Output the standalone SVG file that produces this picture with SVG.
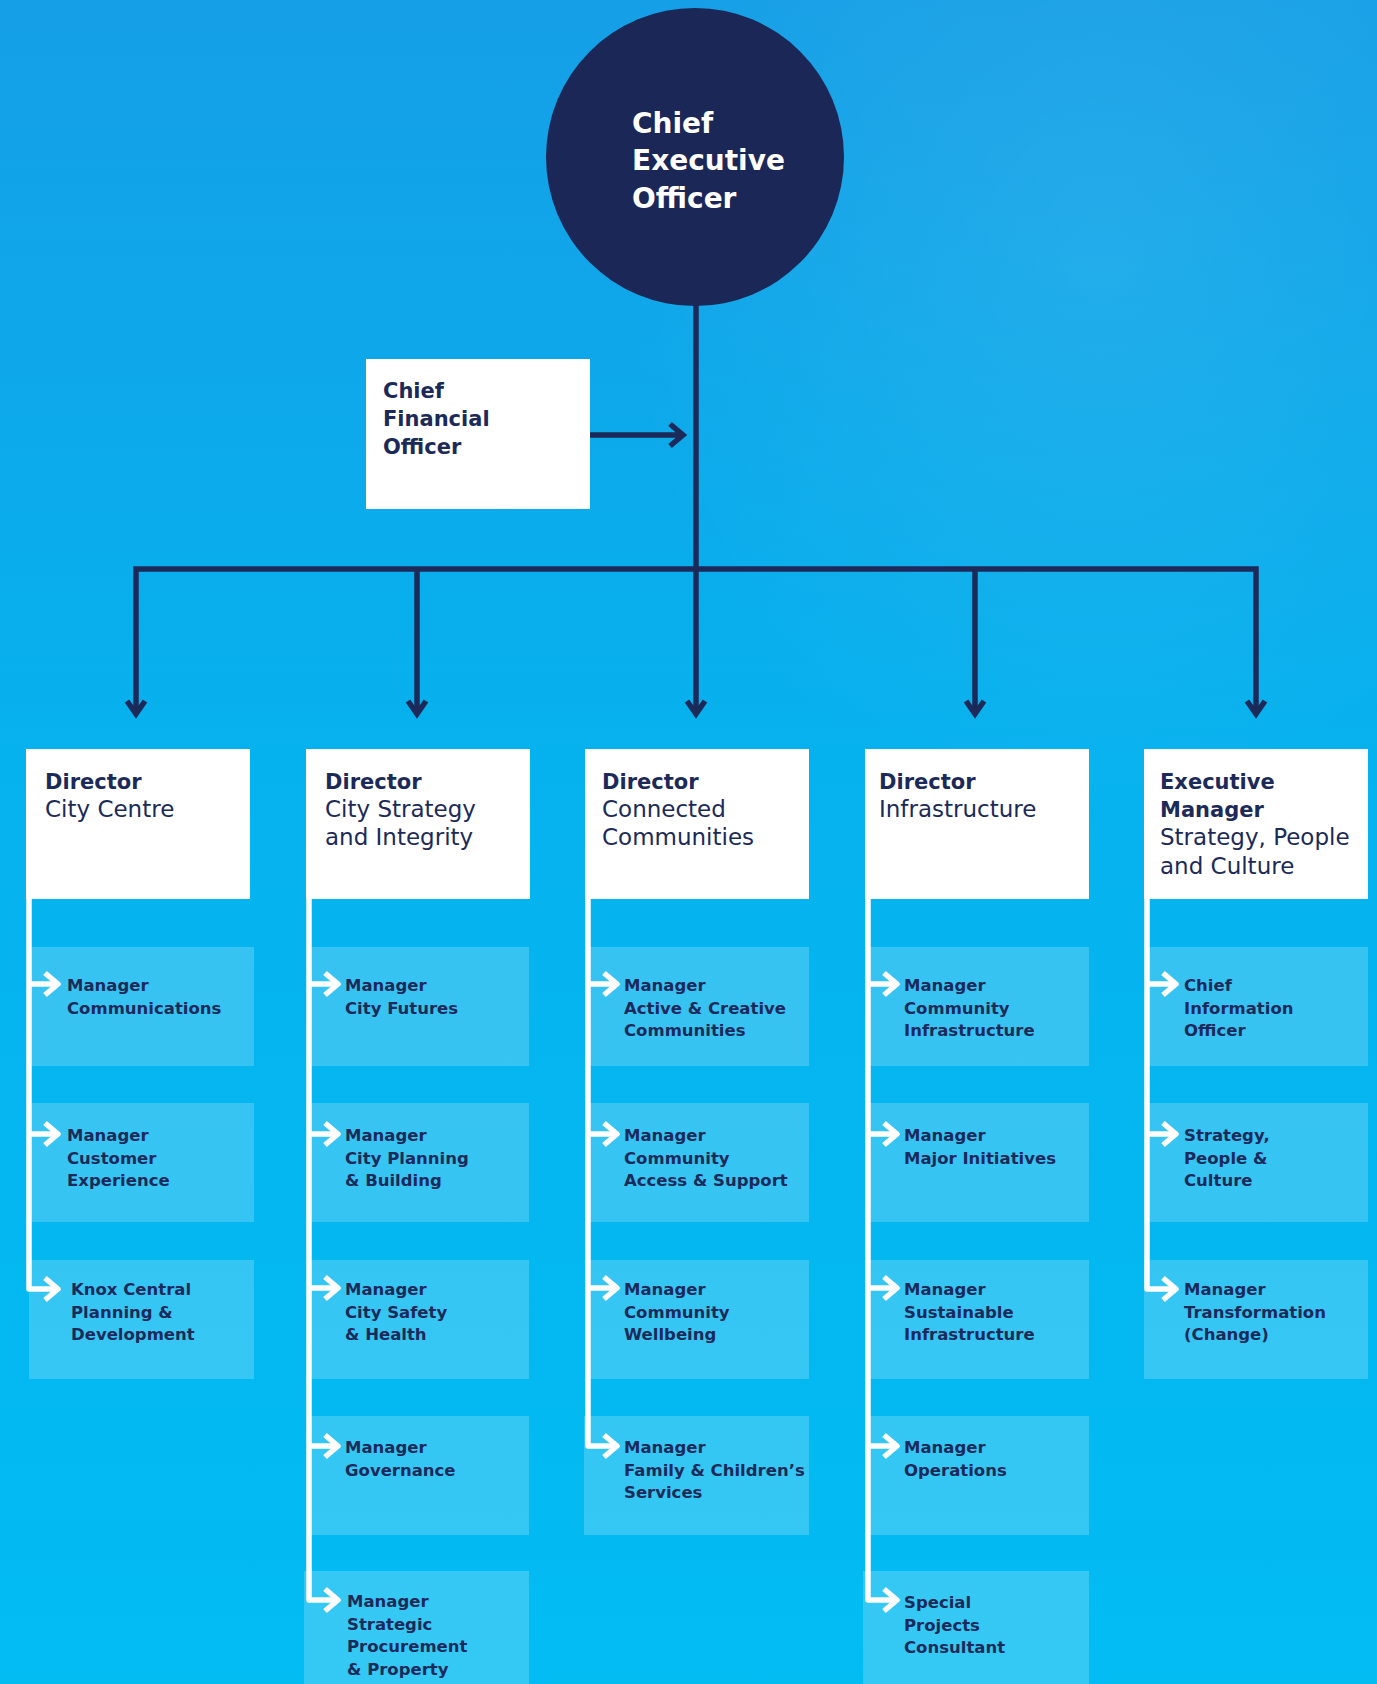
<svg xmlns="http://www.w3.org/2000/svg" width="1377" height="1684" viewBox="0 0 1377 1684">
<defs>
<linearGradient id="bg" x1="0" y1="0" x2="0" y2="1">
<stop offset="0" stop-color="#159fe6"/>
<stop offset="0.45" stop-color="#06b2ee"/>
<stop offset="1" stop-color="#02bcf2"/>
</linearGradient>
<radialGradient id="glow" cx="0.8" cy="0.15" r="0.35">
<stop offset="0" stop-color="#ffffff" stop-opacity="0.08"/>
<stop offset="1" stop-color="#ffffff" stop-opacity="0"/>
</radialGradient>
</defs>
<style>
.nv{fill:none;stroke:#1c2a5a;stroke-width:5.5;stroke-linecap:butt;stroke-linejoin:miter}
.wh{fill:none;stroke:#ffffff;stroke-width:5.5;stroke-linejoin:round}
.dbox{fill:#ffffff}
.mbox{fill:#ffffff;fill-opacity:0.2}
.t{font-family:"DejaVu Sans",sans-serif;fill:#1c2a5a}
.ceo{font-family:"DejaVu Sans",sans-serif;font-weight:bold;font-size:28px;fill:#ffffff}
.cfo{font-weight:bold;font-size:21px}
.dh{font-weight:bold;font-size:21px}
.ds{font-size:23px}
.m{font-weight:bold;font-size:16.5px}
</style>
<rect width="1377" height="1684" fill="url(#bg)"/>
<rect width="1377" height="1684" fill="url(#glow)"/>

<g id="connectors">
<path class="nv" d="M696 300 V714"/>
<path class="nv" d="M136 714 V569 H1256 V714"/>
<path class="nv" d="M417 569 V714"/>
<path class="nv" d="M975 569 V714"/>
<path class="nv" d="M127 701 L136 714 L145 701 M408 701 L417 714 L426 701 M687 701 L696 714 L705 701 M966 701 L975 714 L984 701 M1247 701 L1256 714 L1265 701"/>
<path class="nv" d="M590 435 H683 M670 424 L683 435 L670 446"/>
<!-- col1 -->
<path class="wh" d="M29 899 V1289 H57 M29 984 H57 M29 1134 H57"/>
<path class="wh" d="M45 973 L58 984 L45 995 M45 1123 L58 1134 L45 1145 M45 1278 L58 1289 L45 1300"/>
<!-- col2 -->
<path class="wh" d="M309 899 V1600 H337 M309 984 H337 M309 1134 H337 M309 1288 H337 M309 1446 H337"/>
<path class="wh" d="M325 973 L338 984 L325 995 M325 1123 L338 1134 L325 1145 M325 1277 L338 1288 L325 1299 M325 1435 L338 1446 L325 1457 M325 1589 L338 1600 L325 1611"/>
<!-- col3 -->
<path class="wh" d="M588 899 V1446 H616 M588 984 H616 M588 1134 H616 M588 1288 H616"/>
<path class="wh" d="M604 973 L617 984 L604 995 M604 1123 L617 1134 L604 1145 M604 1277 L617 1288 L604 1299 M604 1435 L617 1446 L604 1457"/>
<!-- col4 -->
<path class="wh" d="M868 899 V1600 H896 M868 984 H896 M868 1134 H896 M868 1288 H896 M868 1446 H896"/>
<path class="wh" d="M884 973 L897 984 L884 995 M884 1123 L897 1134 L884 1145 M884 1277 L897 1288 L884 1299 M884 1435 L897 1446 L884 1457 M884 1589 L897 1600 L884 1611"/>
<!-- col5 -->
<path class="wh" d="M1147 899 V1289 H1175 M1147 984 H1175 M1147 1134 H1175"/>
<path class="wh" d="M1163 973 L1176 984 L1163 995 M1163 1123 L1176 1134 L1163 1145 M1163 1278 L1176 1289 L1163 1300"/>
</g>

<g id="ceo">
<circle cx="695" cy="157" r="149" fill="#1b2757"/>
<text class="ceo" x="632" y="133">Chief</text>
<text class="ceo" x="632" y="170">Executive</text>
<text class="ceo" x="632" y="208">Officer</text>
</g>

<g id="cfo">
<rect class="dbox" x="366" y="359" width="224" height="150"/>
<text class="t cfo" x="383" y="398">Chief</text>
<text class="t cfo" x="383" y="426">Financial</text>
<text class="t cfo" x="383" y="454">Officer</text>
</g>

<g id="dir-city-centre">
<rect class="dbox" x="26" y="749" width="224" height="150"/>
<text class="t dh" x="45" y="789">Director</text>
<text class="t ds" x="45" y="817">City Centre</text>
</g>
<g id="dir-city-strategy">
<rect class="dbox" x="306" y="749" width="224" height="150"/>
<text class="t dh" x="325" y="789">Director</text>
<text class="t ds" x="325" y="817">City Strategy</text>
<text class="t ds" x="325" y="845">and Integrity</text>
</g>
<g id="dir-connected">
<rect class="dbox" x="585" y="749" width="224" height="150"/>
<text class="t dh" x="602" y="789">Director</text>
<text class="t ds" x="602" y="817">Connected</text>
<text class="t ds" x="602" y="845">Communities</text>
</g>
<g id="dir-infrastructure">
<rect class="dbox" x="865" y="749" width="224" height="150"/>
<text class="t dh" x="879" y="789">Director</text>
<text class="t ds" x="879" y="817">Infrastructure</text>
</g>
<g id="exec-spc">
<rect class="dbox" x="1144" y="749" width="224" height="150"/>
<text class="t dh" x="1160" y="789">Executive</text>
<text class="t dh" x="1160" y="817">Manager</text>
<text class="t ds" x="1160" y="845">Strategy, People</text>
<text class="t ds" x="1160" y="874">and Culture</text>
</g>

<!-- Column 1 -->
<g id="m-communications">
<rect class="mbox" x="31" y="947" width="223" height="119"/>
<text class="t m" x="67" y="991"><tspan x="67">Manager</tspan><tspan x="67" dy="22.5">Communications</tspan></text>
</g>
<g id="m-customer">
<rect class="mbox" x="31" y="1103" width="223" height="119"/>
<text class="t m" x="67" y="1141"><tspan x="67">Manager</tspan><tspan x="67" dy="22.5">Customer</tspan><tspan x="67" dy="22.5">Experience</tspan></text>
</g>
<g id="m-knox">
<rect class="mbox" x="29" y="1260" width="225" height="119"/>
<text class="t m" x="71" y="1295"><tspan x="71">Knox Central</tspan><tspan x="71" dy="22.5">Planning &amp;</tspan><tspan x="71" dy="22.5">Development</tspan></text>
</g>

<!-- Column 2 -->
<g id="m-city-futures">
<rect class="mbox" x="311" y="947" width="218" height="119"/>
<text class="t m" x="345" y="991"><tspan x="345">Manager</tspan><tspan x="345" dy="22.5">City Futures</tspan></text>
</g>
<g id="m-city-planning">
<rect class="mbox" x="311" y="1103" width="218" height="119"/>
<text class="t m" x="345" y="1141"><tspan x="345">Manager</tspan><tspan x="345" dy="22.5">City Planning</tspan><tspan x="345" dy="22.5">&amp; Building</tspan></text>
</g>
<g id="m-city-safety">
<rect class="mbox" x="311" y="1260" width="218" height="119"/>
<text class="t m" x="345" y="1295"><tspan x="345">Manager</tspan><tspan x="345" dy="22.5">City Safety</tspan><tspan x="345" dy="22.5">&amp; Health</tspan></text>
</g>
<g id="m-governance">
<rect class="mbox" x="311" y="1416" width="218" height="119"/>
<text class="t m" x="345" y="1453"><tspan x="345">Manager</tspan><tspan x="345" dy="22.5">Governance</tspan></text>
</g>
<g id="m-procurement">
<rect class="mbox" x="304" y="1571" width="225" height="113"/>
<text class="t m" x="347" y="1607"><tspan x="347">Manager</tspan><tspan x="347" dy="22.5">Strategic</tspan><tspan x="347" dy="22.5">Procurement</tspan><tspan x="347" dy="22.5">&amp; Property</tspan></text>
</g>

<!-- Column 3 -->
<g id="m-active">
<rect class="mbox" x="590" y="947" width="219" height="119"/>
<text class="t m" x="624" y="991"><tspan x="624">Manager</tspan><tspan x="624" dy="22.5">Active &amp; Creative</tspan><tspan x="624" dy="22.5">Communities</tspan></text>
</g>
<g id="m-access">
<rect class="mbox" x="590" y="1103" width="219" height="119"/>
<text class="t m" x="624" y="1141"><tspan x="624">Manager</tspan><tspan x="624" dy="22.5">Community</tspan><tspan x="624" dy="22.5">Access &amp; Support</tspan></text>
</g>
<g id="m-wellbeing">
<rect class="mbox" x="590" y="1260" width="219" height="119"/>
<text class="t m" x="624" y="1295"><tspan x="624">Manager</tspan><tspan x="624" dy="22.5">Community</tspan><tspan x="624" dy="22.5">Wellbeing</tspan></text>
</g>
<g id="m-family">
<rect class="mbox" x="584" y="1416" width="225" height="119"/>
<text class="t m" x="624" y="1453"><tspan x="624">Manager</tspan><tspan x="624" dy="22.5">Family &amp; Children’s</tspan><tspan x="624" dy="22.5">Services</tspan></text>
</g>

<!-- Column 4 -->
<g id="m-community-infra">
<rect class="mbox" x="870" y="947" width="219" height="119"/>
<text class="t m" x="904" y="991"><tspan x="904">Manager</tspan><tspan x="904" dy="22.5">Community</tspan><tspan x="904" dy="22.5">Infrastructure</tspan></text>
</g>
<g id="m-major">
<rect class="mbox" x="870" y="1103" width="219" height="119"/>
<text class="t m" x="904" y="1141"><tspan x="904">Manager</tspan><tspan x="904" dy="22.5">Major Initiatives</tspan></text>
</g>
<g id="m-sustainable">
<rect class="mbox" x="870" y="1260" width="219" height="119"/>
<text class="t m" x="904" y="1295"><tspan x="904">Manager</tspan><tspan x="904" dy="22.5">Sustainable</tspan><tspan x="904" dy="22.5">Infrastructure</tspan></text>
</g>
<g id="m-operations">
<rect class="mbox" x="870" y="1416" width="219" height="119"/>
<text class="t m" x="904" y="1453"><tspan x="904">Manager</tspan><tspan x="904" dy="22.5">Operations</tspan></text>
</g>
<g id="m-special">
<rect class="mbox" x="863" y="1571" width="226" height="113"/>
<text class="t m" x="904" y="1608"><tspan x="904">Special</tspan><tspan x="904" dy="22.5">Projects</tspan><tspan x="904" dy="22.5">Consultant</tspan></text>
</g>

<!-- Column 5 -->
<g id="m-cio">
<rect class="mbox" x="1149" y="947" width="219" height="119"/>
<text class="t m" x="1184" y="991"><tspan x="1184">Chief</tspan><tspan x="1184" dy="22.5">Information</tspan><tspan x="1184" dy="22.5">Officer</tspan></text>
</g>
<g id="m-spc">
<rect class="mbox" x="1149" y="1103" width="219" height="119"/>
<text class="t m" x="1184" y="1141"><tspan x="1184">Strategy,</tspan><tspan x="1184" dy="22.5">People &amp;</tspan><tspan x="1184" dy="22.5">Culture</tspan></text>
</g>
<g id="m-transformation">
<rect class="mbox" x="1144" y="1260" width="224" height="119"/>
<text class="t m" x="1184" y="1295"><tspan x="1184">Manager</tspan><tspan x="1184" dy="22.5">Transformation</tspan><tspan x="1184" dy="22.5">(Change)</tspan></text>
</g>
</svg>
